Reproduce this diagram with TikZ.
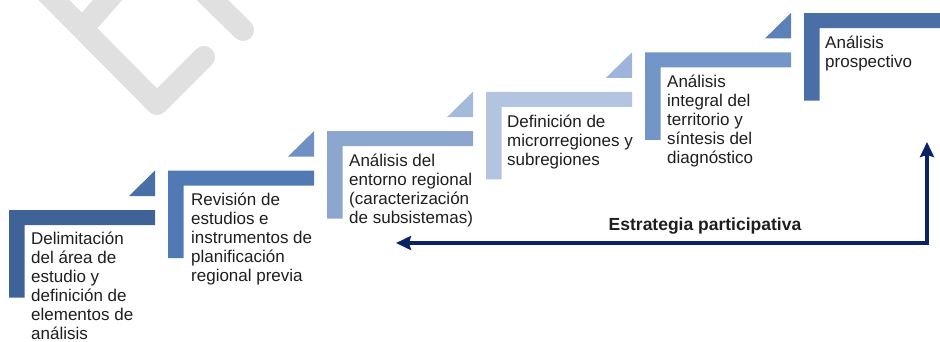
\documentclass[tikz,border=0pt]{standalone}
\usepackage{fontspec}
\setmainfont{Liberation Sans}
\usetikzlibrary{arrows.meta}
\definecolor{cA}{HTML}{3F6396}
\definecolor{cB}{HTML}{5179B3}
\definecolor{cC}{HTML}{8CA6CF}
\definecolor{cD}{HTML}{B3C4E1}
\definecolor{cE}{HTML}{7395C7}
\definecolor{cF}{HTML}{4A6FA6}
\definecolor{tA}{HTML}{4A6FA6}
\definecolor{tB}{HTML}{7090C3}
\definecolor{tC}{HTML}{A5B9DB}
\definecolor{tD}{HTML}{9FB4DA}
\definecolor{tE}{HTML}{5C80B8}
\definecolor{navy}{HTML}{0B2265}
\definecolor{txt}{HTML}{1E1E1E}
\definecolor{wm}{HTML}{E0E0E0}
\tikzset{
  steptext/.style={anchor=north west, inner sep=0pt, align=left, text=txt,
    font=\fontsize{17}{19}\selectfont},
  wmark/.style={draw=wm, line width=22pt, line cap=round, line join=round},
}
\begin{document}
\begin{tikzpicture}[x=1pt,y=-1pt]
\useasboundingbox (0,0) rectangle (940,341);
\clip (0,0) rectangle (940,341);
% watermark fragment
\draw[wmark] (40,-14) -- (157,104) -- (204,57);
\draw[wmark] (120,-14) -- (90,20);
\draw[wmark] (198,-14) -- (243,30);
% steps
\foreach \i/\c in {0/cA,1/cB,2/cC,3/cD,4/cE,5/cF}{
  \pgfmathsetmacro\L{9+159*\i}
  \pgfmathsetmacro\T{210-39.4*\i}
  \fill[\c] (\L,\T) -- (\L+146,\T) -- (\L+146,\T+15) -- (\L+15.5,\T+15)
     -- (\L+15.5,\T+87.5) -- (\L,\T+87.5) -- cycle;
}
\foreach \i/\c in {0/tA,1/tB,2/tC,3/tD,4/tE}{
  \pgfmathsetmacro\L{9+159*\i}
  \pgfmathsetmacro\T{210-39.4*\i}
  \fill[\c] (\L+146,\T-14) -- (\L+120,\T-14) -- (\L+146,\T-39.5) -- cycle;
}
% texts (baseline = bar top + 35)
\node[steptext] (s1) at (31,231.2) {\strut Delimitación\\del área de\\estudio y\\definición de\\elementos de\\análisis};
\node[steptext] (s2) at (191,192.3) {\strut Revisión de\\estudios e\\instrumentos de\\planificación\\regional previa};
\node[steptext] (s3) at (349,152.9) {\strut Análisis del\\entorno regional\\(caracterización\\de subsistemas)};
\node[steptext] (s4) at (507,113.5) {\strut Definición de\\microrregiones y\\subregiones};
\node[steptext] (s5) at (667,74.1) {\strut Análisis\\integral del\\territorio y\\síntesis del\\diagnóstico};
\node[steptext] (s6) at (825,34.7) {\strut Análisis\\prospectivo};
% participative strategy arrow
\coordinate (aL) at (396,243);
\coordinate (aU) at (927,142);
\draw[navy, line width=3.8pt, {Stealth[length=15pt,width=14pt,inset=2pt]}-{Stealth[length=15pt,width=14pt,inset=2pt]}]
  (aL) -| (aU);
\node[anchor=base, font=\fontsize{17.5}{19}\selectfont\bfseries, text=txt] (lab) at (705,230) {Estrategia participativa};
\end{tikzpicture}
\end{document}
